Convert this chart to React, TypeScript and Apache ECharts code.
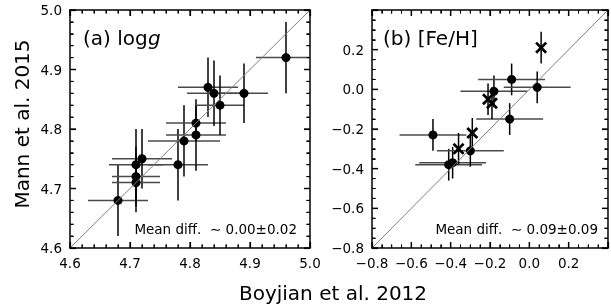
import React, { useEffect, useRef } from "react";
import * as echarts from "echarts";

// ---- data ----
const loggRange = [4.6, 5.0];
const loggInterval = 0.1;
const loggMinorSplit = 5;
const fehRange = [-0.8, 0.4];
const fehInterval = 0.2;
const fehMinorSplit = 4;

// Panel (a) log g : Boyajian (x) vs Mann (y)
const loggX = [4.68, 4.71, 4.72, 4.71, 4.71, 4.78, 4.79, 4.81, 4.81, 4.83, 4.84, 4.85, 4.89, 4.96];
const loggY = [4.68, 4.74, 4.75, 4.72, 4.71, 4.74, 4.78, 4.79, 4.81, 4.87, 4.86, 4.84, 4.86, 4.92];
const loggXErr = [0.05, 0.045, 0.05, 0.04, 0.04, 0.05, 0.06, 0.05, 0.05, 0.05, 0.045, 0.04, 0.04, 0.05];
const loggYErr = [0.06, 0.06, 0.05, 0.05, 0.05, 0.06, 0.06, 0.06, 0.03, 0.05, 0.055, 0.05, 0.05, 0.06];

// Panel (b) [Fe/H] : circles (with x and y errors)
const fehX = [-0.49, -0.41, -0.39, -0.30, -0.18, -0.09, 0.04, -0.10];
const fehY = [-0.23, -0.38, -0.37, -0.31, -0.01, 0.05, 0.01, -0.15];
const fehXErr = [0.17, 0.17, 0.17, 0.17, 0.17, 0.17, 0.17, 0.17];
const fehYErr = [0.08, 0.08, 0.08, 0.08, 0.08, 0.08, 0.08, 0.08];

// Panel (b) [Fe/H] : crosses (y errors only)
const crossX = [-0.36, -0.29, -0.21, -0.19, 0.06];
const crossY = [-0.30, -0.22, -0.05, -0.07, 0.21];
const crossYErr = [0.08, 0.075, 0.08, 0.08, 0.08];

const panelLabelA = "(a) log";
const panelLabelAItalic = "g";
const panelLabelB = "(b) [Fe/H]";
const meanDiff = ["Mean diff.  \u223C 0.00\u00B10.02", "Mean diff.  \u223C 0.09\u00B10.09"];
const xName = "Boyjian et al. 2012";
const yName = "Mann et al. 2015";

const FONT = "DejaVu Sans";
const CROSS =
  "path://M0,1.6L1.6,0L5,3.4L8.4,0L10,1.6L6.6,5L10,8.4L8.4,10L5,6.6L1.6,10L0,8.4L3.4,5Z";

function fmt(v: number): string {
  if (Math.abs(v) < 1e-9) return "0.0";
  return v < 0 ? "\u2212" + Math.abs(v).toFixed(1) : v.toFixed(1);
}

// tick values (major flag 1, minor 0) derived from an axis range and interval
function tickValues(range: number[], interval: number, minorSplit: number) {
  const step = interval / minorSplit;
  const n = Math.round((range[1] - range[0]) / step);
  const out: number[][] = [];
  for (let i = 0; i <= n; i++) {
    const v = +(range[0] + i * step).toFixed(6);
    out.push([v, v, i % minorSplit === 0 ? 1 : 0]);
  }
  return out;
}

function axis(
  gridIndex: number,
  range: number[],
  interval: number,
  minorSplit: number,
  position: string,
  showLabel: boolean,
  hideAbove?: number
) {
  return {
    type: "value",
    gridIndex,
    position,
    min: range[0],
    max: range[1],
    interval,
    axisLine: { show: true, onZero: false, lineStyle: { color: "#000", width: 1.5 } },
    axisTick: { show: true, inside: true, length: 6, lineStyle: { color: "#000", width: 1.2 } },
    minorTick: { show: true, splitNumber: minorSplit, length: 3.5, lineStyle: { color: "#000", width: 1 } },
    splitLine: { show: false },
    axisLabel: {
      show: showLabel,
      color: "#000",
      fontFamily: FONT,
      fontSize: 13.5,
      margin: 8,
      formatter: (v: number) => (hideAbove !== undefined && v > hideAbove ? "" : fmt(v)),
    },
  };
}

function tickSeries(axisIndex: number, range: number[], interval: number, minorSplit: number) {
  return {
    type: "custom",
    xAxisIndex: axisIndex,
    yAxisIndex: axisIndex,
    data: tickValues(range, interval, minorSplit),
    encode: { x: 0, y: 1 },
    silent: true,
    clip: false,
    z: 4,
    renderItem: (_params: any, api: any) => {
      const v = api.value(0);
      const major = api.value(2) === 1;
      const L = major ? 6 : 3.5;
      const w = major ? 1.3 : 1.1;
      const b = api.coord([v, range[0]]);
      const t = api.coord([v, range[1]]);
      const l = api.coord([range[0], v]);
      const r = api.coord([range[1], v]);
      const mk = (x1: number, y1: number, x2: number, y2: number) => ({
        type: "line",
        shape: { x1, y1, x2, y2 },
        style: { stroke: "#000", lineWidth: w },
      });
      return {
        type: "group",
        children: [
          mk(b[0], b[1], b[0], b[1] - L),
          mk(t[0], t[1], t[0], t[1] + L),
          mk(l[0], l[1], l[0] + L, l[1]),
          mk(r[0], r[1], r[0] - L, r[1]),
        ],
      };
    },
  };
}

function errorSeries(
  xAxisIndex: number,
  yAxisIndex: number,
  xs: number[],
  ys: number[],
  xerr: number[] | null,
  yerr: number[]
) {
  const data = xs.map((x, i) => [x, ys[i], xerr ? xerr[i] : 0, yerr[i]]);
  return {
    type: "custom",
    xAxisIndex,
    yAxisIndex,
    data,
    silent: true,
    encode: { x: 0, y: 1 },
    renderItem: (params: any, api: any) => {
      const x = api.value(0);
      const y = api.value(1);
      const ex = api.value(2);
      const ey = api.value(3);
      const cs = params.coordSys;
      const xMaxPx = cs.x + cs.width;
      const children: any[] = [];
      if (ex > 0) {
        const a = api.coord([x - ex, y]);
        const b = api.coord([x + ex, y]);
        children.push({
          type: "line",
          shape: { x1: Math.max(a[0], cs.x), y1: a[1], x2: Math.min(b[0], xMaxPx), y2: b[1] },
          style: { stroke: "#4a4a4a", lineWidth: 1.5 },
        });
      }
      const c = api.coord([x, y - ey]);
      const d = api.coord([x, y + ey]);
      children.push({
        type: "line",
        shape: { x1: c[0], y1: c[1], x2: d[0], y2: d[1] },
        style: { stroke: "#000", lineWidth: 1.5 },
      });
      return { type: "group", children };
    },
  };
}

export default function App() {
  const ref = useRef<HTMLDivElement>(null);
  useEffect(() => {
    if (!ref.current) return;
    const chart = echarts.init(ref.current, null, { renderer: "svg" });
    const option: any = {
      animation: false,
      grid: [
        { left: 70, top: 10, width: 240, height: 238 },
        { left: 372, top: 10, width: 238, height: 238 },
      ],
      xAxis: [
        axis(0, loggRange, loggInterval, loggMinorSplit, "bottom", true),
        axis(0, loggRange, loggInterval, loggMinorSplit, "top", false),
        axis(1, fehRange, fehInterval, fehMinorSplit, "bottom", true, 0.3),
        axis(1, fehRange, fehInterval, fehMinorSplit, "top", false),
      ],
      yAxis: [
        axis(0, loggRange, loggInterval, loggMinorSplit, "left", true),
        axis(0, loggRange, loggInterval, loggMinorSplit, "right", false),
        axis(1, fehRange, fehInterval, fehMinorSplit, "left", true, 0.3),
        axis(1, fehRange, fehInterval, fehMinorSplit, "right", false),
      ],
      series: [
        {
          type: "line",
          xAxisIndex: 0,
          yAxisIndex: 0,
          data: [
            [loggRange[0], loggRange[0]],
            [loggRange[1], loggRange[1]],
          ],
          symbol: "none",
          lineStyle: { color: "#7f7f7f", width: 1 },
          silent: true,
        },
        {
          type: "line",
          xAxisIndex: 2,
          yAxisIndex: 2,
          data: [
            [fehRange[0], fehRange[0]],
            [fehRange[1], fehRange[1]],
          ],
          symbol: "none",
          lineStyle: { color: "#7f7f7f", width: 1 },
          silent: true,
        },
        tickSeries(0, loggRange, loggInterval, loggMinorSplit),
        tickSeries(2, fehRange, fehInterval, fehMinorSplit),
        errorSeries(0, 0, loggX, loggY, loggXErr, loggYErr),
        errorSeries(2, 2, fehX, fehY, fehXErr, fehYErr),
        errorSeries(2, 2, crossX, crossY, null, crossYErr),
        {
          type: "scatter",
          xAxisIndex: 0,
          yAxisIndex: 0,
          data: loggX.map((x, i) => [x, loggY[i]]),
          symbol: "circle",
          symbolSize: 9,
          itemStyle: { color: "#000", opacity: 1 },
        },
        {
          type: "scatter",
          xAxisIndex: 2,
          yAxisIndex: 2,
          data: fehX.map((x, i) => [x, fehY[i]]),
          symbol: "circle",
          symbolSize: 9,
          itemStyle: { color: "#000", opacity: 1 },
        },
        {
          type: "scatter",
          xAxisIndex: 2,
          yAxisIndex: 2,
          data: crossX.map((x, i) => [x, crossY[i]]),
          symbol: CROSS,
          symbolSize: 12,
          itemStyle: { color: "#000", opacity: 1 },
        },
      ],
      graphic: [
        {
          type: "text",
          x: 83,
          y: 38,
          style: {
            text: panelLabelA,
            fontFamily: FONT,
            fontSize: 20,
            fill: "#000",
            align: "left",
            verticalAlign: "middle",
          },
        },
        {
          type: "text",
          x: 148,
          y: 38,
          style: {
            text: panelLabelAItalic,
            fontFamily: FONT,
            fontSize: 20,
            fontStyle: "italic",
            fill: "#000",
            align: "left",
            verticalAlign: "middle",
          },
        },
        {
          type: "text",
          x: 383,
          y: 38,
          style: {
            text: panelLabelB,
            fontFamily: FONT,
            fontSize: 20,
            fill: "#000",
            align: "left",
            verticalAlign: "middle",
          },
        },
        {
          type: "text",
          x: 297,
          y: 229,
          style: {
            text: meanDiff[0],
            fontFamily: FONT,
            fontSize: 13.5,
            fill: "#000",
            align: "right",
            verticalAlign: "middle",
          },
        },
        {
          type: "text",
          x: 598,
          y: 229,
          style: {
            text: meanDiff[1],
            fontFamily: FONT,
            fontSize: 13.5,
            fill: "#000",
            align: "right",
            verticalAlign: "middle",
          },
        },
        {
          type: "text",
          x: 22,
          y: 124,
          rotation: Math.PI / 2,
          style: {
            text: yName,
            fontFamily: FONT,
            fontSize: 20,
            fill: "#000",
            align: "center",
            verticalAlign: "middle",
          },
        },
        {
          type: "text",
          x: 333,
          y: 293,
          style: {
            text: xName,
            fontFamily: FONT,
            fontSize: 20,
            fill: "#000",
            align: "center",
            verticalAlign: "middle",
          },
        },
      ],
    };
    chart.setOption(option);
    return () => chart.dispose();
  }, []);
  return <div ref={ref} style={{ position: "fixed", left: 0, top: 0, width: 611, height: 307 }} />;
}
